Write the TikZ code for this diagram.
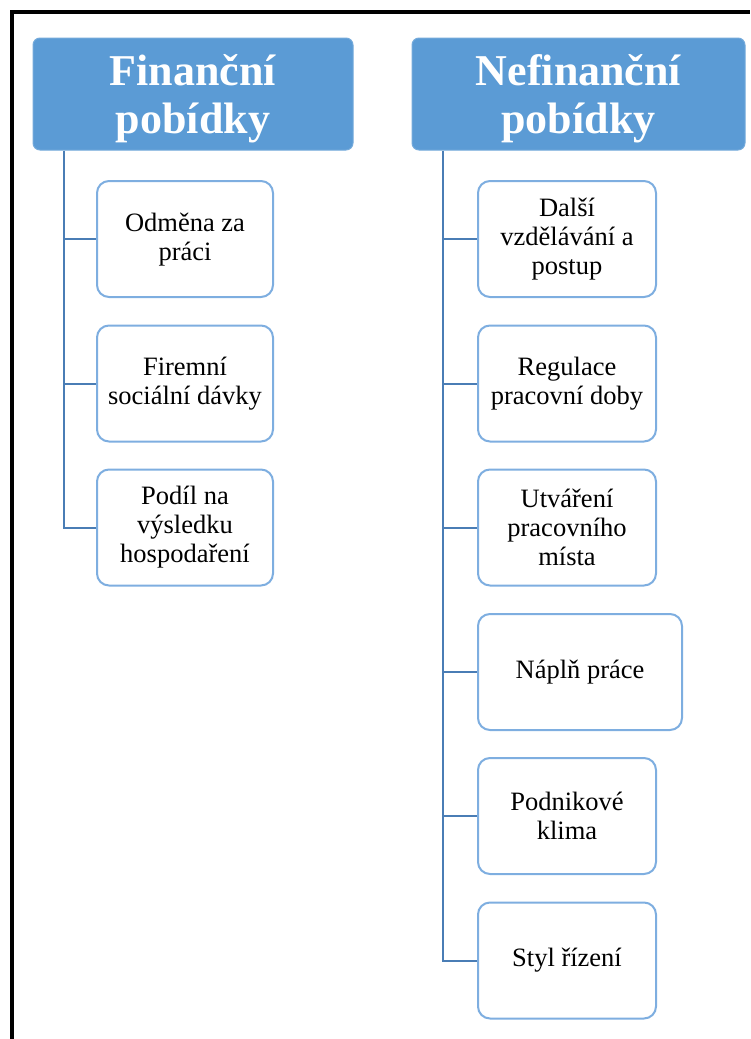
\documentclass[tikz,border=0pt]{standalone}
\usepackage{fontspec}
\setmainfont{Liberation Serif}
\definecolor{hdrblue}{HTML}{5B9BD5}
\definecolor{boxblue}{HTML}{7EAEE0}
\definecolor{linkblue}{HTML}{4A7DB5}
\begin{document}
\begin{tikzpicture}[x=1pt,y=-1pt,
  header/.style={fill=hdrblue,draw=hdrblue!85!white,line width=1pt,rounded corners=7pt,
    minimum height=112pt,inner sep=0pt},
  htext/.style={align=center,text=white,inner sep=0pt,
    font=\fontsize{44}{48}\selectfont\bfseries},
  child/.style={draw=boxblue,fill=white,line width=2pt,rounded corners=12pt,
    minimum height=116pt,align=center,inner sep=0pt,
    font=\fontsize{26.5}{29}\selectfont},
  link/.style={draw=linkblue,line width=2pt}]
\useasboundingbox (0,0) rectangle (750,1039);
% frame (left and top edges)
\draw[line width=4pt] (12,1039) -- (12,12) -- (750,12);
% headers
\node[header,minimum width=320pt] (h1) at (193,94) {};
\node[htext] (h1t) at ([yshift=-5pt]h1.center) {Finanční\\pobídky};
\node[header,minimum width=333pt] (h2) at (578.5,94) {};
\node[htext] (h2t) at ([yshift=-5pt]h2.center) {Nefinanční\\pobídky};
% left children
\node[child,minimum width=176pt] (l1) at (185,239) {\strut Odměna za\\práci};
\node[child,minimum width=176pt] (l2) at (185,383.5) {Firemní\\sociální dávky};
\node[child,minimum width=176pt] (l3) at (185,527.5) {Podíl na\\výsledku\\hospodaření};
% right children
\node[child,minimum width=178pt] (r1) at (567,239) {Další\\vzdělávání a\\postup};
\node[child,minimum width=178pt] (r2) at (567,383.5) {Regulace\\pracovní doby};
\node[child,minimum width=178pt] (r3) at (567,527.5) {Utváření\\pracovního\\místa};
\node[child,minimum width=204pt] (r4) at (580,672) {Náplň práce};
\node[child,minimum width=178pt] (r5) at (567,816) {Podnikové\\klima};
\node[child,minimum width=178pt] (r6) at (567,960.5) {Styl řízení};
% trunk coordinates
\coordinate (t1) at ([xshift=31pt]h1.south west);
\coordinate (t2) at ([xshift=31pt]h2.south west);
% connectors
\draw[link] (t1) -- (t1 |- l3.west) -- (l3.west);
\draw[link] (t1 |- l1.west) -- (l1.west);
\draw[link] (t1 |- l2.west) -- (l2.west);
\draw[link] (t2) -- (t2 |- r6.west) -- (r6.west);
\foreach \c in {r1,r2,r3,r4,r5}
  \draw[link] (t2 |- \c.west) -- (\c.west);
\end{tikzpicture}
\end{document}
